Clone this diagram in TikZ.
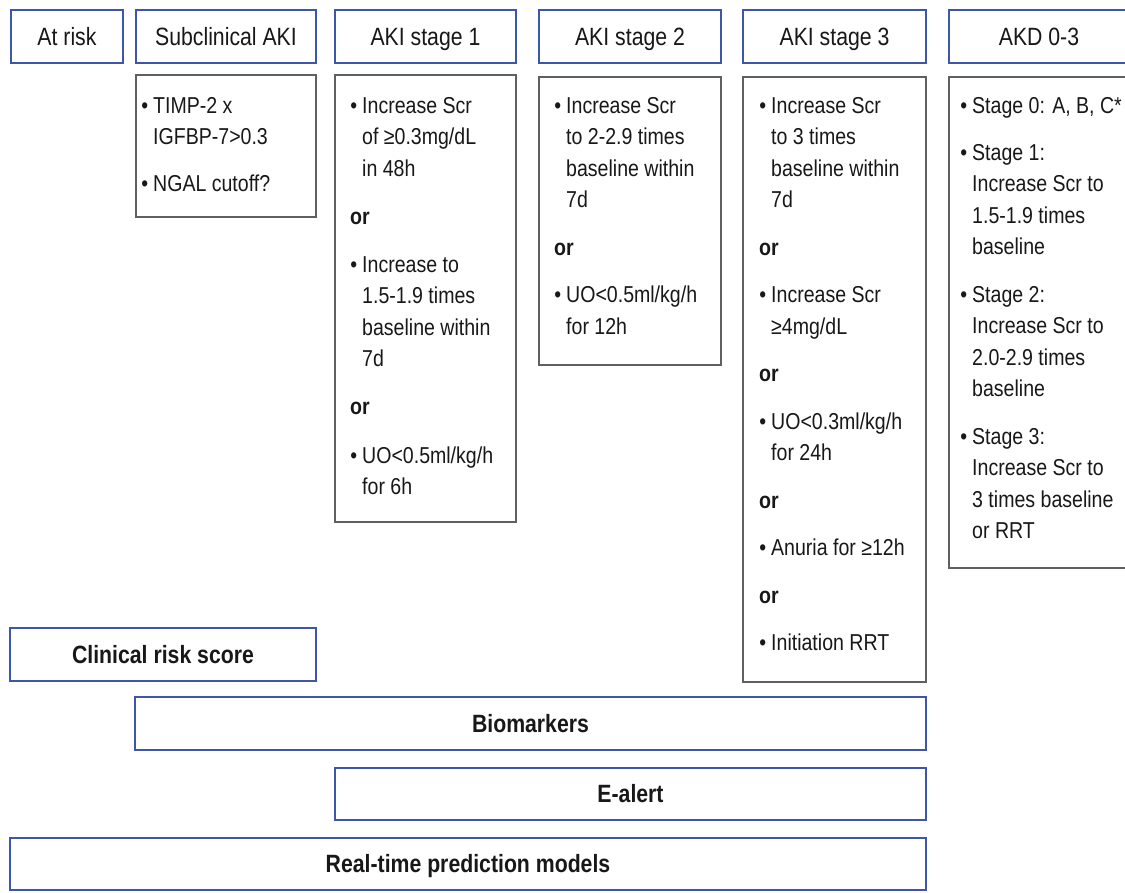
\documentclass[tikz,border=0pt]{standalone}
\usepackage{fontspec}
\setmainfont{Liberation Sans}[FakeStretch=0.85]

\definecolor{frameblue}{RGB}{62,86,168}
\definecolor{framegray}{RGB}{96,96,96}
\definecolor{ink}{RGB}{24,24,24}

% box given by its corners: style, name, x1, y1, x2, y2, text
\newcommand\stagebox[7]{%
  \node[#1, minimum width={#5-#3}, minimum height={#6-#4}] (#2) at ({(#3+#5)/2},{(#4+#6)/2}) {#7};}

\tikzset{
  hdrbox/.style={draw=frameblue, line width=2pt, inner sep=0pt, text=ink,
    text height=18pt, text depth=1pt, font=\fontsize{25}{30}\selectfont},
  barbox/.style={hdrbox, font=\fontsize{25}{30}\selectfont\bfseries},
  critbox/.style={draw=framegray, line width=1.5pt, inner sep=0pt},
  txtline/.style={anchor=base west, inner sep=0pt, text=ink,
    font=\fontsize{23}{28}\selectfont},
  cont/.style={txtline},
  bul/.style={txtline, execute at begin node={\llap{\textbullet\hspace{5pt}}}},
  orw/.style={txtline, xshift=-12pt, font=\fontsize{23}{28}\selectfont\bfseries},
}

\begin{document}
\begin{tikzpicture}[x=1pt, y=-1pt]
\useasboundingbox (0,0) rectangle (1125,892);
\clip (0,0) rectangle (1125,892);
\fill[white] (0,0) rectangle (1125,892);

% column headers
\stagebox{hdrbox}{risk}{11}{10}{123}{63}{At risk}
\stagebox{hdrbox}{sub}{136}{10}{316}{63}{Subclinical AKI}
\stagebox{hdrbox}{st1}{335}{10}{516}{63}{AKI stage 1}
\stagebox{hdrbox}{st2}{539}{10}{721}{63}{AKI stage 2}
\stagebox{hdrbox}{st3}{743}{10}{926}{63}{AKI stage 3}
\stagebox{hdrbox}{akd}{949}{10}{1129}{63}{AKD 0-3}

% criteria frames
\stagebox{critbox}{csub}{136}{75}{316}{217}{}
\stagebox{critbox}{cst1}{335}{75}{516}{522}{}
\stagebox{critbox}{cst2}{539}{77}{721}{365}{}
\stagebox{critbox}{cst3}{743}{77}{926}{682}{}
\stagebox{critbox}{cakd}{949}{77}{1129}{568}{}

% criteria text
\foreach \y/\k/\t [count=\i] in {113/bul/{TIMP-2 x}, 144.5/cont/{IGFBP-7>0.3},
    191/bul/{NGAL cutoff?}}
  \node[\k] (tsub-\i) at (153,\y) {\t};

\foreach \y/\k/\t [count=\i] in {113/bul/{Increase Scr}, 144.5/cont/{of ≥0.3mg/dL},
    176/cont/{in 48h}, 224/orw/{or}, 272/bul/{Increase to}, 303.5/cont/{1.5-1.9 times},
    335/cont/{baseline within}, 366.5/cont/{7d}, 414.5/orw/{or},
    463/bul/{UO<0.5ml/kg/h}, 494.5/cont/{for 6h}}
  \node[\k] (tst1-\i) at (362,\y) {\t};

\foreach \y/\k/\t [count=\i] in {113/bul/{Increase Scr}, 144.5/cont/{to 2-2.9 times},
    176/cont/{baseline within}, 207.5/cont/{7d}, 255/orw/{or},
    302.5/bul/{UO<0.5ml/kg/h}, 334/cont/{for 12h}}
  \node[\k] (tst2-\i) at (566,\y) {\t};

\foreach \y/\k/\t [count=\i] in {113/bul/{Increase Scr}, 144.5/cont/{to 3 times},
    176/cont/{baseline within}, 207.5/cont/{7d}, 255/orw/{or},
    302.5/bul/{Increase Scr}, 334/cont/{≥4mg/dL}, 381.5/orw/{or},
    429/bul/{UO<0.3ml/kg/h}, 460.5/cont/{for 24h}, 508/orw/{or},
    555.5/bul/{Anuria for ≥12h}, 603/orw/{or}, 650.5/bul/{Initiation RRT}}
  \node[\k] (tst3-\i) at (771,\y) {\t};

\foreach \y/\k/\t [count=\i] in {113/bul/{Stage 0: A, B, C*}, 160/bul/{Stage 1:},
    191.5/cont/{Increase Scr to}, 223/cont/{1.5-1.9 times}, 254.5/cont/{baseline},
    302/bul/{Stage 2:}, 333.5/cont/{Increase Scr to}, 365/cont/{2.0-2.9 times},
    396.5/cont/{baseline}, 444/bul/{Stage 3:}, 475.5/cont/{Increase Scr to},
    507/cont/{3 times baseline}, 538.5/cont/{or RRT}}
  \node[\k] (takd-\i) at (972,\y) {\t};

% tools spanning the stages
\stagebox{barbox}{crs}{10}{628}{316}{681}{Clinical risk score}
\stagebox{barbox}{bio}{135}{697}{926}{750}{Biomarkers}
\stagebox{barbox}{alert}{335}{768}{926}{820}{E-alert}
\stagebox{barbox}{rtpm}{10}{838}{926}{890}{Real-time prediction models}
\end{tikzpicture}
\end{document}
